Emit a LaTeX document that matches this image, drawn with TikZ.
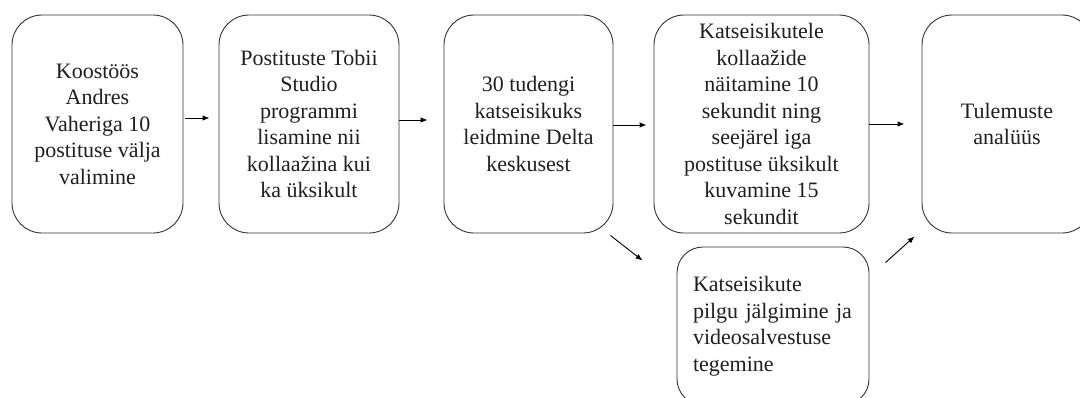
\documentclass[tikz,border=0pt]{standalone}
\usepackage{fontspec}
\setmainfont{Liberation Serif}
\newfontfamily\tnrfont{Liberation Serif}
\usetikzlibrary{arrows.meta,calc}
\begin{document}
\begin{tikzpicture}[x=1pt,y=-1pt,
  box/.style={draw=black!80, line width=0.9pt, rounded corners=30pt, align=center,
    text=black!88, font=\tnrfont\fontsize{22}{26.5}\selectfont, inner sep=0pt},
  arr/.style={draw=black, line width=0.9pt, -{Latex[length=7pt,width=5.5pt]}}]
\useasboundingbox (0,0) rectangle (1080,397);
\clip (0,0) rectangle (1080,397);
\node[box, minimum width=171pt, minimum height=218pt] (b1) at (97.5,124)
  {Koostöös\\Andres\\Vaheriga 10\\postituse välja\\valimine};
\node[box, minimum width=180pt, minimum height=218pt] (b2) at (309,124)
  {Postituste Tobii\\Studio\\programmi\\lisamine nii\\kollaažina kui\\ka üksikult};
\node[box, minimum width=169pt, minimum height=218pt] (b3) at (528.5,124)
  {30 tudengi\\katseisikuks\\leidmine Delta\\keskusest};
\node[box, minimum width=215pt, minimum height=218pt] (b4) at (761.5,124)
  {Katseisikutele\\kollaažide\\näitamine 10\\sekundit ning\\seejärel iga\\postituse üksikult\\kuvamine 15\\sekundit};
\node[box, minimum width=170pt, minimum height=218pt] (b5) at (1007,124)
  {Tulemuste\\analüüs};
\node[box, rounded corners=26pt, align=left, minimum width=192pt, minimum height=158pt,
  text width=160pt] (b6) at (773,326)
  {Katseisikute\\pilgu jälgimine ja\\videosalvestuse\\tegemine};
\draw[arr] ($(b1.east)+(2,-6)$) -- ($(b2.west)+(-9,-6)$);
\draw[arr] ($(b2.east)+(0,-4)$) -- ($(b3.west)+(-16,-4)$);
\draw[arr] ($(b3.east)+(0,1)$) -- ($(b4.west)+(-7,1)$);
\draw[arr] ($(b4.east)+(0,0)$) -- ($(b5.west)+(-17,0)$);
\draw[arr] ($(b3.south east)+(-3,2)$) -- ($(b6.north west)+(-34,14)$);
\draw[arr] ($(b6.north east)+(16,16)$) -- ($(b5.south west)+(-7,3)$);
\end{tikzpicture}
\end{document}
